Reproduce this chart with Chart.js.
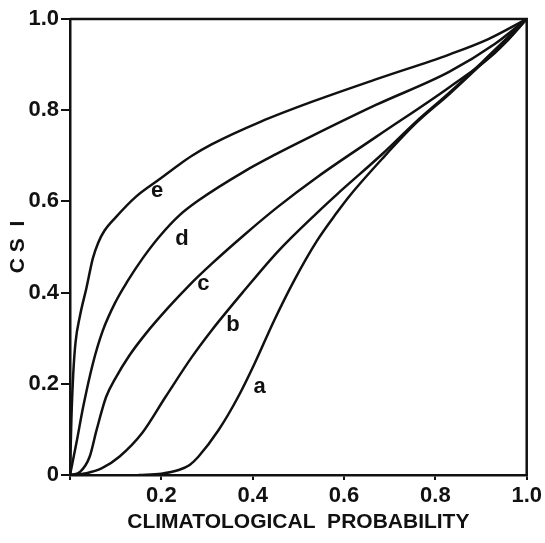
<!DOCTYPE html>
<html lang="en">
<head>
  <meta charset="UTF-8">
  <title>CSI vs climatological probability</title>
  <script src="https://cdn.jsdelivr.net/npm/chart.js"></script>
  <style>
    html, body { margin: 0; padding: 0; background: #fff; }
    #wrap { width: 545px; height: 543px; }
  </style>
</head>
<body>
  <div id="wrap"><canvas id="grafico" width="545" height="543"></canvas></div>

  <script>
    // curves (x = climatological probability, y = CSI)
    const curveNames = ['a', 'b', 'c', 'd', 'e'];

    const xA = [0.15, 0.2, 0.238, 0.262, 0.281, 0.325, 0.368, 0.404, 0.447, 0.491, 0.541, 0.584, 0.613, 0.685, 0.758, 0.83, 0.9, 0.96, 1];
    const yA = [0, 0.003, 0.011, 0.022, 0.04, 0.098, 0.171, 0.244, 0.339, 0.427, 0.514, 0.575, 0.613, 0.695, 0.772, 0.835, 0.9, 0.955, 1];

    const xB = [0, 0.036, 0.07, 0.108, 0.158, 0.209, 0.267, 0.31, 0.382, 0.455, 0.541, 0.584, 0.685, 0.758, 0.83, 0.902, 1];
    const yB = [0, 0.004, 0.015, 0.04, 0.092, 0.171, 0.259, 0.317, 0.405, 0.49, 0.575, 0.615, 0.705, 0.775, 0.838, 0.905, 1];

    const xC = [0, 0.022, 0.043, 0.058, 0.079, 0.1, 0.13, 0.166, 0.216, 0.26, 0.31, 0.382, 0.455, 0.541, 0.671, 0.83, 0.93, 1];
    const yC = [0, 0.007, 0.04, 0.098, 0.171, 0.213, 0.262, 0.31, 0.368, 0.415, 0.463, 0.527, 0.588, 0.653, 0.742, 0.85, 0.925, 1];

    const xD = [0, 0.014, 0.029, 0.05, 0.072, 0.1, 0.126, 0.159, 0.195, 0.24, 0.281, 0.382, 0.45, 0.527, 0.671, 0.83, 0.93, 1];
    const yD = [0, 0.07, 0.15, 0.244, 0.317, 0.38, 0.425, 0.475, 0.522, 0.57, 0.602, 0.666, 0.703, 0.742, 0.812, 0.884, 0.945, 1];

    const xE = [0, 0.003, 0.007, 0.012, 0.022, 0.036, 0.05, 0.062, 0.075, 0.1, 0.144, 0.195, 0.238, 0.267, 0.31, 0.418, 0.526, 0.671, 0.83, 0.916, 1];
    const yE = [0, 0.12, 0.22, 0.29, 0.35, 0.41, 0.475, 0.51, 0.535, 0.565, 0.61, 0.648, 0.68, 0.7, 0.725, 0.775, 0.817, 0.868, 0.922, 0.956, 1];

    // where the letters sit
    const labelX = [0.415, 0.357, 0.292, 0.245, 0.191];
    const labelY = [0.193, 0.328, 0.420, 0.518, 0.624];

    const xTicks = [0, 0.2, 0.4, 0.6, 0.8, 1.0];
    const yTicks = [0, 0.2, 0.4, 0.6, 0.8, 1.0];

    const xs = [xA, xB, xC, xD, xE];
    const ys = [yA, yB, yC, yD, yE];

    const fonte = 'Liberation Sans, Arial, Helvetica, sans-serif';

    const datasets = curveNames.map((nome, i) => ({
      label: nome,
      data: xs[i].map((x, j) => ({ x: x, y: ys[i][j] })),
      borderColor: '#111',
      borderWidth: 2.5,
      pointRadius: 0,
      fill: false,
      cubicInterpolationMode: 'monotone'
    }));

    const rotulos = {
      id: 'rotulos',
      afterDatasetsDraw(chart) {
        const { ctx, chartArea, scales } = chart;
        ctx.save();
        // top and right sides of the frame
        ctx.strokeStyle = '#111';
        ctx.lineWidth = 2.5;
        ctx.beginPath();
        ctx.moveTo(chartArea.left, chartArea.top);
        ctx.lineTo(chartArea.right, chartArea.top);
        ctx.lineTo(chartArea.right, chartArea.bottom);
        ctx.stroke();

        ctx.fillStyle = '#111';
        ctx.font = 'bold 22px ' + fonte;
        ctx.textAlign = 'center';
        ctx.textBaseline = 'middle';
        curveNames.forEach((nome, i) => {
          ctx.fillText(nome, scales.x.getPixelForValue(labelX[i]), scales.y.getPixelForValue(labelY[i]));
        });
        ctx.restore();
      }
    };

    const ctx = document.getElementById('grafico').getContext('2d');
    new Chart(ctx, {
      type: 'line',
      data: { datasets: datasets },
      options: {
        responsive: false,
        animation: false,
        layout: { padding: { top: 19, right: 13, left: 0, bottom: 0 } },
        plugins: {
          legend: { display: false },
          tooltip: { enabled: false }
        },
        scales: {
          x: {
            type: 'linear',
            min: 0,
            max: 1,
            afterBuildTicks: s => { s.ticks = xTicks.map(v => ({ value: v })); },
            afterFit: s => { s.height = 68; },
            ticks: {
              color: '#111',
              font: { family: fonte, size: 22, weight: 'bold' },
              padding: 3,
              maxRotation: 0,
              callback: v => v === 0 ? '' : v.toFixed(1)
            },
            grid: { drawOnChartArea: false, color: '#111', lineWidth: 2, tickLength: 5 },
            border: { color: '#111', width: 2.5 },
            title: {
              display: true,
              text: 'CLIMATOLOGICAL  PROBABILITY',
              color: '#111',
              font: { family: fonte, size: 21, weight: 'bold' },
              padding: { top: 0, bottom: 8 }
            }
          },
          y: {
            type: 'linear',
            min: 0,
            max: 1,
            afterBuildTicks: s => { s.ticks = yTicks.map(v => ({ value: v })); },
            afterFit: s => { s.width = 70; },
            ticks: {
              color: '#111',
              font: { family: fonte, size: 22, weight: 'bold' },
              padding: 2,
              callback: v => v === 0 ? '0' : v.toFixed(1)
            },
            grid: { drawOnChartArea: false, color: '#111', lineWidth: 2, tickLength: 9 },
            border: { color: '#111', width: 2.5 },
            title: {
              display: true,
              text: 'C S  I',
              color: '#111',
              font: { family: fonte, size: 21, weight: 'bold' },
              padding: { top: 6, bottom: 4 }
            }
          }
        }
      },
      plugins: [rotulos]
    });
  </script>
</body>
</html>
